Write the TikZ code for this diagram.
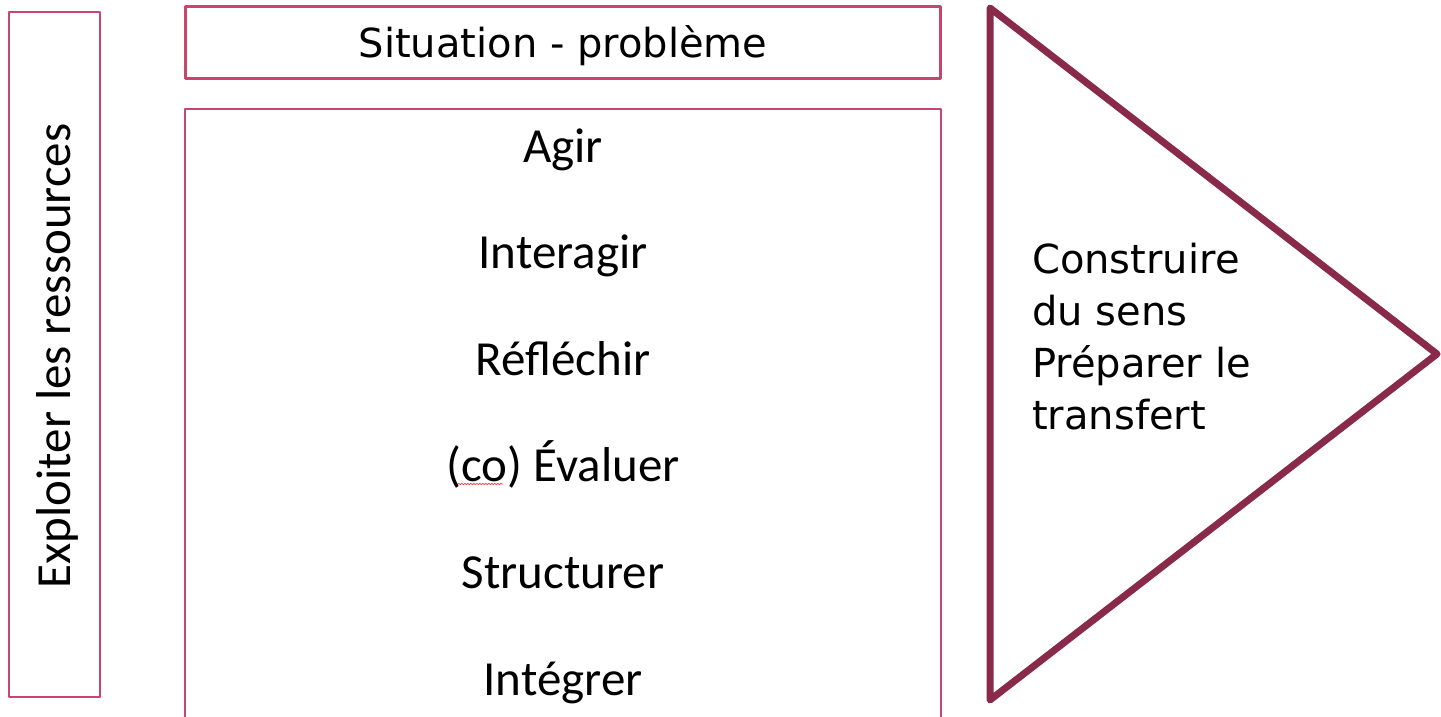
\documentclass[tikz,border=0pt]{standalone}
\usepackage{fontspec}
\setmainfont{Carlito}
\newfontfamily\titlefont{DejaVu Sans}
\usetikzlibrary{positioning, decorations.pathmorphing}
\definecolor{boxrose}{HTML}{C8466E}
\definecolor{arrowwine}{HTML}{8A2A4A}

\begin{document}
\begin{tikzpicture}[x=1pt, y=-1pt, line join=round,
    framebox/.style={draw=boxrose, line width=2.2pt, inner sep=0pt},
    stage/.style={font=\fontsize{49}{58}\selectfont, anchor=base},
    titletext/.style={font=\titlefont\fontsize{40}{52}\selectfont}]
            \useasboundingbox (0,0) rectangle (1441,717);

            % resources box on the left
                  \node[framebox, minimum width=91pt, minimum height=685pt] (resbox) at (54.5,354.5) {};
                  \node[stage, rotate=90] (resources) at (70,356) {Exploiter les ressources};

            % situation box
                  \node[framebox, line width=3pt, minimum width=755pt, minimum height=72pt] (sitbox) at (563,43) {};
                  \node[titletext, anchor=base] (situation) at (563,57.5) {Situation - problème};

            % main box with the stages
                  \draw[framebox] (185,740) -- (185,109) -- (941,109) -- (941,740);
                  \foreach \txt [count=\i] in {Agir, Interagir, Réfléchir, {(co) Évaluer}, Structurer, Intégrer}
                        \node[stage] (stage\i) at (563,{162+106.6*(\i-1)}) {\txt};
                  \draw[red!75, line width=0.7pt, decorate, decoration={snake, segment length=3pt, amplitude=0.8pt}] (458,484) -- (503,484);

            % triangle
                  \draw[arrowwine, line width=7pt] (990,8) -- (1437,354) -- (990,700) -- cycle;
                  \node[titletext, align=left, anchor=base west, inner sep=0pt] (sense) at (1032,429)
                        {Construire\\du sens\\Préparer le\\transfert};
              \end{tikzpicture}
\end{document}
